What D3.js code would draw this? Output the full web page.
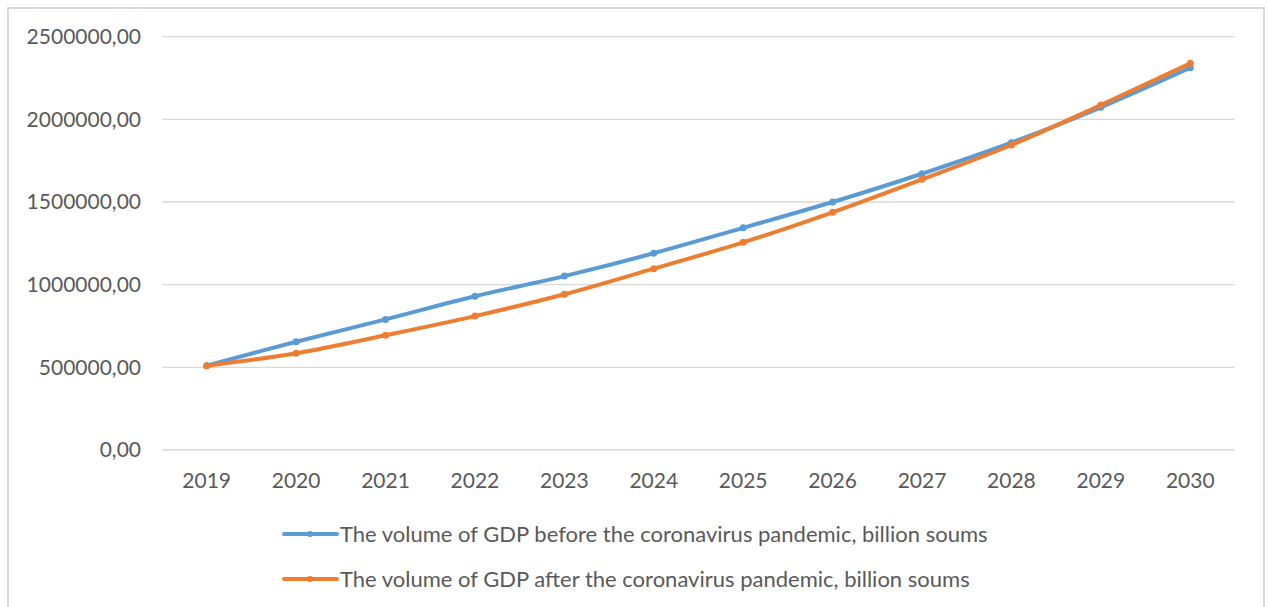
<!DOCTYPE html>
<meta charset="utf-8">
<style>
body { margin: 0; background: #fff; }
text { font-family: Lato, "Open Sans", sans-serif; fill: #595959; }
</style>
<svg width="1269" height="607"></svg>
<script src="https://d3js.org/d3.v7.min.js"></script>
<script>

var years = ["2019","2020","2021","2022","2023","2024","2025","2026","2027","2028","2029","2030"];
var gdpBefore = [510000, 655000, 790000, 930000, 1052000, 1190000, 1344000, 1500000, 1671000, 1859000, 2073000, 2312000];
var gdpAfter  = [510000, 585000, 694000, 810000, 942000, 1097000, 1256000, 1438000, 1637000, 1845000, 2087000, 2339000];
var yTicks = [0, 500000, 1000000, 1500000, 2000000, 2500000];
var seriesNames = [
  "The volume of GDP before the coronavirus pandemic, billion soums",
  "The volume of GDP after the coronavirus pandemic, billion soums"
];
var colors = ["#5B9BD5", "#ED7D31"];

var svg = d3.select("svg");

// outer chart frame
svg.append("rect")
    .attr("x", 8).attr("y", 8)
    .attr("width", 1256).attr("height", 610)
    .attr("fill", "none")
    .attr("stroke", "#d9d9d9")
    .attr("stroke-width", 2);

var x = d3.scaleBand().domain(years).range([162, 1235]);
var y = d3.scaleLinear().domain([0, 2500000]).range([450, 36.7]);

// gridlines
svg.append("g")
  .selectAll("line")
  .data(yTicks)
  .enter().append("line")
    .attr("x1", 162).attr("x2", 1235)
    .attr("y1", function(d) { return y(d); })
    .attr("y2", function(d) { return y(d); })
    .attr("stroke", "#d9d9d9")
    .attr("stroke-width", 1.3);

// y labels
svg.append("g")
  .selectAll("text")
  .data(yTicks)
  .enter().append("text")
    .attr("x", 141)
    .attr("y", function(d) { return y(d); })
    .attr("dy", "0.35em")
    .attr("text-anchor", "end")
    .style("font-size", "21px")
    .text(function(d) { return d + ",00"; });

// x labels
svg.append("g")
  .selectAll("text")
  .data(years)
  .enter().append("text")
    .attr("x", function(d) { return x(d) + x.bandwidth() / 2; })
    .attr("y", 481)
    .attr("dy", "0.35em")
    .attr("text-anchor", "middle")
    .style("font-size", "21px")
    .text(function(d) { return d; });

var line = d3.line()
    .x(function(d, i) { return x(years[i]) + x.bandwidth() / 2; })
    .y(function(d) { return y(d); })
    .curve(d3.curveCatmullRom.alpha(0.5));

[gdpBefore, gdpAfter].forEach(function(vals, k) {
  svg.append("path")
      .datum(vals)
      .attr("fill", "none")
      .attr("stroke", colors[k])
      .attr("stroke-width", 4)
      .attr("stroke-linecap", "round")
      .attr("d", line);

  svg.append("g")
    .selectAll("circle")
    .data(vals)
    .enter().append("circle")
      .attr("cx", function(d, i) { return x(years[i]) + x.bandwidth() / 2; })
      .attr("cy", function(d) { return y(d); })
      .attr("r", 3.5)
      .attr("fill", colors[k]);
});

// legend
var legend = svg.append("g")
  .selectAll("g")
  .data(seriesNames)
  .enter().append("g")
    .attr("transform", function(d, i) { return "translate(0," + (534 + i * 45) + ")"; });

legend.append("line")
    .attr("x1", 284).attr("x2", 337)
    .attr("stroke", function(d, i) { return colors[i]; })
    .attr("stroke-width", 4)
    .attr("stroke-linecap", "round");

legend.append("circle")
    .attr("cx", 310).attr("r", 3)
    .attr("fill", function(d, i) { return colors[i]; });

legend.append("text")
    .attr("x", 340)
    .attr("dy", "0.35em")
    .style("font-size", "22px")
    .text(function(d) { return d; });

</script>
